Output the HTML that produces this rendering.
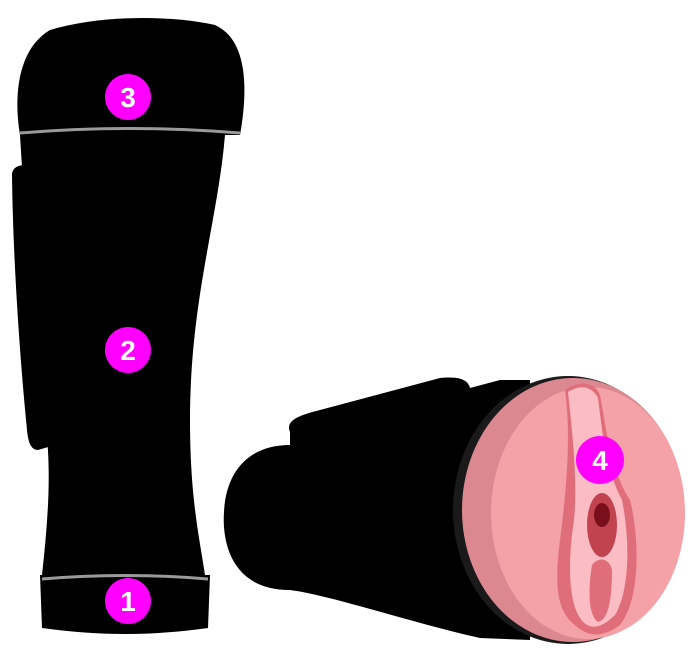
<!DOCTYPE html>
<html><head><style>
html,body{margin:0;padding:0;background:#fff;width:700px;height:650px;overflow:hidden}
</style></head><body>
<svg width="700" height="650" viewBox="0 0 700 650" xmlns="http://www.w3.org/2000/svg">
<!-- left device -->
<path d="M20,135 C14,100 16,50 50,30 C100,15 170,15 215,25 C248,40 248,90 240,135 Z" fill="#000"/>
<path d="M20,135 L225,135 C218,220 190,300 190,420 C190,500 200,540 205,575 L42,575 C48,520 52,470 45,420 C35,340 25,220 20,135 Z" fill="#000"/>
<path d="M12,175 C12,168 18,165 25,165 L45,165 L55,445 L38,450 C30,450 28,440 27,430 C20,360 13,260 12,175 Z" fill="#000"/>
<path d="M40,575 L210,575 L208,628 C150,636 100,636 42,628 Z" fill="#000"/>
<path d="M20,133 Q130,124 240,133" stroke="#9a9a9a" stroke-width="3" fill="none"/>
<path d="M42,579 Q125,572 208,579" stroke="#9a9a9a" stroke-width="3" fill="none"/>
<!-- right device -->
<path d="M290,432 C285,420 300,415 320,410 L440,378 C460,376 468,380 470,388 L500,380 L530,380 L530,640 L480,638 C420,625 330,595 290,590 C230,590 222,540 224,512 C226,470 250,445 290,445 Z" fill="#000"/>
<ellipse cx="568" cy="510" rx="115" ry="134" fill="#1a1a1a"/>
<ellipse cx="573" cy="510" rx="111" ry="132" fill="#db8890"/>
<ellipse cx="588" cy="513" rx="97" ry="126" fill="#f4a1a8"/>
<path d="M565,390 C580,380 595,382 600,395 C605,420 610,470 630,500 C640,540 640,600 620,625 C600,640 585,635 575,625 C555,610 555,580 560,540 C565,500 572,440 565,390 Z" fill="#e06e7a"/>
<path d="M568,392 C580,384 592,386 598,398 C602,430 606,470 622,500 C630,540 630,590 615,615 C600,630 588,630 580,618 C568,600 568,560 574,520 C578,480 572,430 568,392 Z" fill="#fbbcc3"/>
<ellipse cx="602" cy="525" rx="15" ry="32" fill="#c0434f"/>
<ellipse cx="602" cy="515" rx="8" ry="12" fill="#7a0f1c"/>
<path d="M592,565 C600,555 610,560 612,570 C612,600 608,620 598,622 C588,615 588,590 592,565 Z" fill="#e06e7a"/>
<!-- badges -->
<g font-family="Liberation Sans, sans-serif" font-weight="bold" font-size="28" fill="#fff" text-anchor="middle">
<circle cx="128" cy="97" r="23" fill="#f0f"/><text x="128" y="107">3</text>
<circle cx="128" cy="350" r="23" fill="#f0f"/><text x="128" y="360">2</text>
<circle cx="128" cy="601" r="23" fill="#f0f"/><text x="128" y="611">1</text>
<circle cx="600" cy="460" r="24" fill="#f0f"/><text x="600" y="470">4</text>
</g>
</svg>
</body></html>
